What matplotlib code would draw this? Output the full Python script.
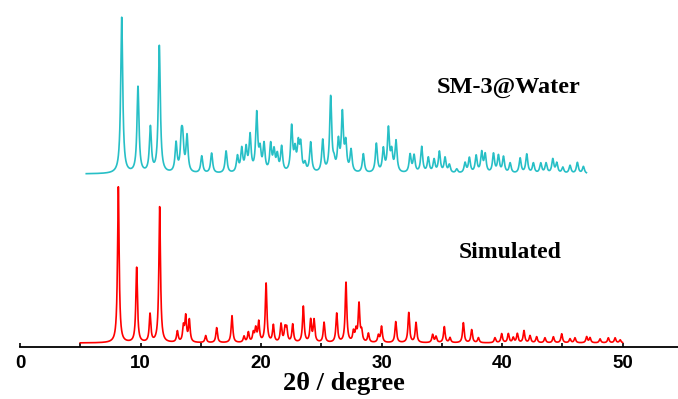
import numpy as np
import matplotlib.pyplot as plt

# peak positions (2theta) and heights
sim_pos = [8.16, 9.68, 10.79, 11.59, 13.06, 13.56, 13.75, 14.05, 15.41, 16.32,
           17.59, 18.59, 18.95, 19.36, 19.56, 19.81, 20.42, 21.02, 21.66, 21.99,
           22.13, 22.63, 23.51, 24.12, 24.40, 25.23, 26.28, 27.05, 27.67, 27.88,
           28.13, 28.35, 28.91, 29.74, 30.00, 31.18, 32.26, 32.86, 34.24, 34.52,
           35.21, 35.68, 36.79, 37.48, 38.04, 39.41, 39.97, 40.52, 40.93, 41.27,
           41.82, 42.32, 42.87, 43.56, 44.26, 44.95, 45.64, 46.05, 47.02, 47.30,
           48.13, 48.82, 49.38, 49.80]
sim_int = [156, 75, 28, 136, 11, 15, 25, 22, 7, 15,
           27, 6, 10, 9, 13, 20, 59, 17, 18, 13,
           13, 18, 36, 22, 22, 20, 29, 60, 10, 11,
           38, 10, 9, 7, 16, 21, 30, 20, 8, 6,
           16, 5, 20, 13, 5, 5, 9, 9, 5, 9,
           12, 7, 6, 5, 6, 9, 4, 5, 6, 5,
           4, 5, 5, 3]

exp_pos = [8.44, 9.79, 10.82, 11.56, 12.95, 13.39, 13.50, 13.86, 15.08, 15.90,
           17.10, 18.04, 18.40, 18.76, 19.09, 19.64, 19.92, 20.25, 20.80, 21.08,
           21.35, 21.71, 22.54, 22.82, 23.09, 23.29, 23.65, 24.12, 25.12, 25.78,
           26.06, 26.42, 26.75, 27.03, 27.47, 28.49, 29.57, 30.15, 30.57, 30.84,
           31.20, 32.37, 32.70, 33.33, 33.88, 34.36, 34.80, 35.27, 35.63, 36.24,
           36.93, 37.29, 37.85, 38.31, 38.60, 39.29, 39.70, 40.12, 40.67, 41.50,
           42.05, 42.60, 43.21, 43.65, 44.21, 44.54, 45.04, 45.64, 46.25, 46.75]
exp_int = [156, 86, 45, 127, 29, 30, 28, 36, 17, 20,
           22, 16, 23, 23, 36, 58, 20, 27, 27, 20,
           16, 25, 45, 20, 26, 26, 8, 30, 32, 75,
           8, 29, 57, 27, 22, 19, 29, 23, 43, 19,
           31, 18, 17, 26, 15, 13, 21, 15, 8, 4,
           10, 15, 17, 20, 18, 19, 17, 16, 10, 15,
           19, 10, 10, 10, 14, 10, 6, 8, 11, 7]

sim_range = (5.0, 50.0)
exp_range = (5.5, 47.0)
sim_offset = 3.7
exp_offset = 172.7


def pattern(pos, inten, lo, hi, fwhm):
    x = np.linspace(lo, hi, 6000)
    y = np.zeros_like(x)
    g = fwhm / 2
    for p, h in zip(pos, inten):
        y += h * g**2 / ((x - p)**2 + g**2)
    return x, y


fig = plt.figure(figsize=(6.78, 3.99), dpi=100)
ax = fig.add_axes([20 / 678, 1 - 346.7 / 399, 1 - 20 / 678, 346.7 / 399])

xs, ys = pattern(sim_pos, sim_int, *sim_range, 0.16)
xe, ye = pattern(exp_pos, exp_int, *exp_range, 0.2)
ax.plot(xs, ys + sim_offset, color='#FF0000', lw=1.2)
ax.plot(xe, ye + exp_offset, color='#27BFC6', lw=1.2)

ax.set_xlim(0, 54.6)
ax.set_ylim(0, 346.7)
for s in ['left', 'right', 'top']:
    ax.spines[s].set_visible(False)
ax.spines['bottom'].set_linewidth(1.3)
ax.set_yticks([])
ax.set_xticks([0, 10, 20, 30, 40, 50])
ax.set_xticks([5, 15, 25, 35, 45], minor=True)
ax.tick_params(axis='x', which='both', direction='in', length=3, width=1.2, pad=6)
for t in ax.get_xticklabels():
    t.set_fontfamily('Liberation Sans')
    t.set_fontweight('bold')
    t.set_fontsize(13.5)

ax.text(26.9, -37, '2θ / degree', ha='center', va='center',
        family='Liberation Serif', fontweight='bold', fontsize=19)
ax.text(34.6, 254, 'SM-3@Water', ha='left', va='baseline',
        family='Liberation Serif', fontweight='bold', fontsize=17.5)
ax.text(36.4, 88.5, 'Simulated', ha='left', va='baseline',
        family='Liberation Serif', fontweight='bold', fontsize=17)

fig.savefig('out.png', dpi=100)
